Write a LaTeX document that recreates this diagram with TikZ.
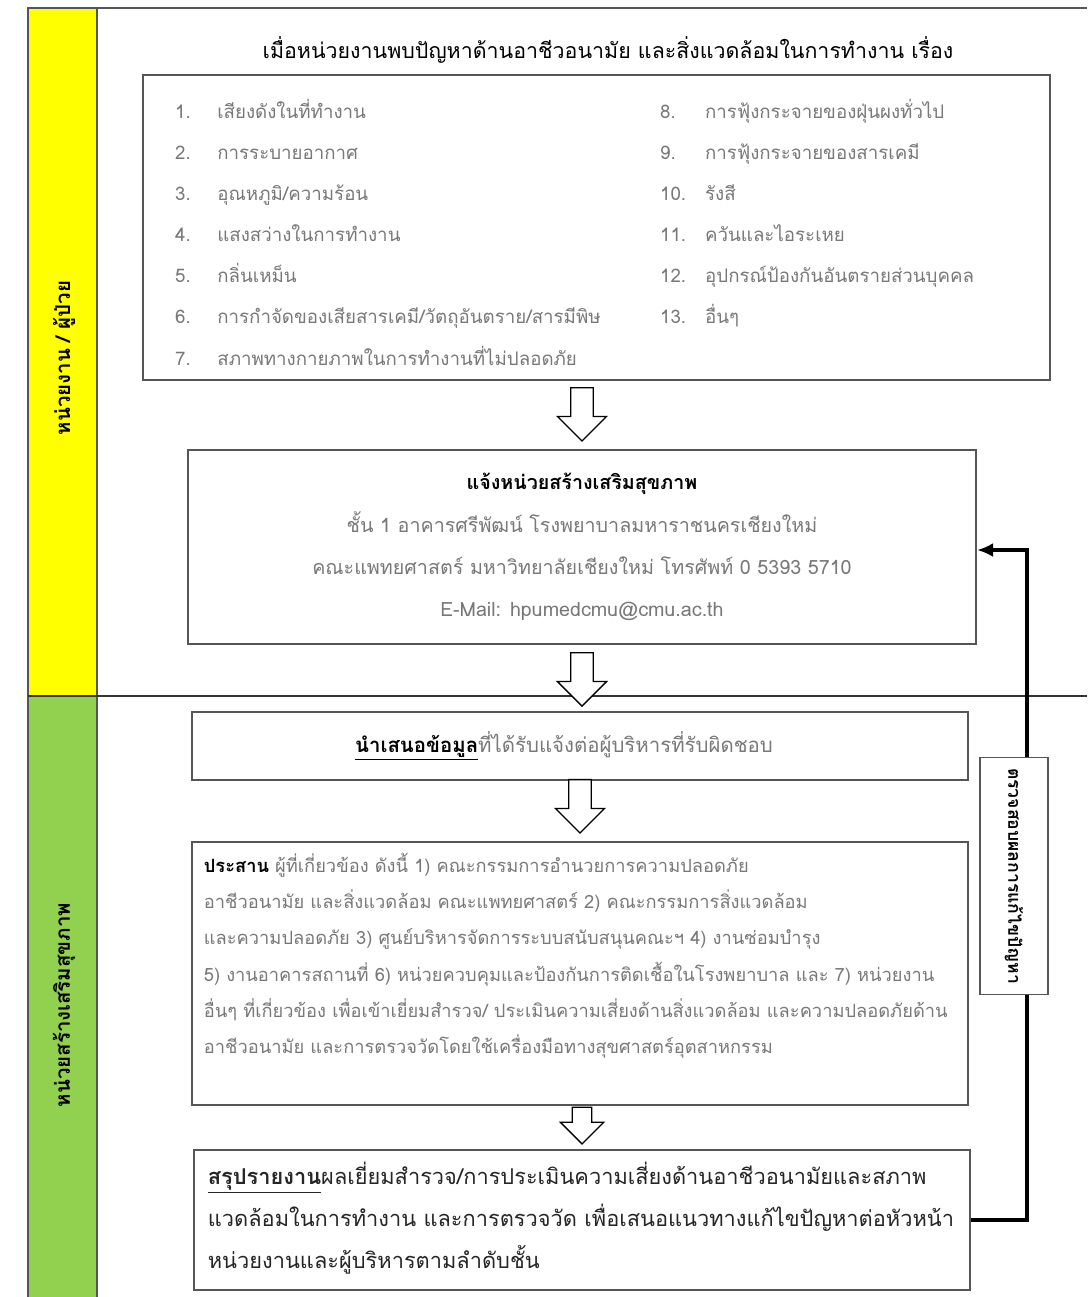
\documentclass[tikz,border=0pt]{standalone}
\usepackage{fontspec}
\newfontfamily\thai[Script=Thai]{Loma}
\usetikzlibrary{arrows.meta,shapes.arrows,positioning,calc}
\definecolor{laneyellow}{RGB}{255,255,0}
\definecolor{lanegreen}{RGB}{146,208,80}
\definecolor{softgray}{RGB}{120,120,120}
\definecolor{framegray}{RGB}{85,85,85}
\newcommand\listfont{\thai\fontsize{13.3}{14.6}\selectfont}

\tikzset{
  box/.style={draw=framegray, line width=1.4pt, fill=white, inner sep=0pt},
  hollow/.style={single arrow, draw=black, fill=white, line width=0.9pt,
    shape border rotate=270, inner sep=7.5pt, single arrow head extend=9.5pt,
    minimum height=38pt},
  lane/.style={rotate=90, font=\thai\bfseries\fontsize{14.5}{16}\selectfont},
  feedback/.style={line width=2.2pt, -{Latex[length=4mm,width=3.5mm]}},
}

\begin{document}
\begin{tikzpicture}[x=0.025cm,y=-0.025cm]
\useasboundingbox (0,0) rectangle (1087,1297);
\fill[laneyellow] (28,8) rectangle (97,695);
\fill[lanegreen] (28,697) rectangle (97,1297);
\draw[framegray,line width=1pt] (28,1297) -- (28,8) -- (1087,8);
\draw[framegray,line width=1pt] (97,8) -- (97,1297);
\draw[black!80,line width=0.8pt] (28,696) -- (1087,696);
\draw (64,358) node[lane] (unitlane) {หน่วยงาน / ผู้ป่วย};
\draw (64,1005) node[lane] (hpulane) {หน่วยสร้างเสริมสุขภาพ};

\draw (608,50) node[font=\thai\fontsize{15.2}{18}\selectfont] (title)
  {เมื่อหน่วยงานพบปัญหาด้านอาชีวอนามัย และสิ่งแวดล้อมในการทำงาน เรื่อง};

\draw (596.5,227.5) node[box, minimum width=22.675cm, minimum height=7.625cm] (issues) {};
\draw (issues.north west) ++(22,11) node[anchor=north west, text=softgray, font=\listfont] (leftlist) {
\renewcommand\arraystretch{2}
\begin{tabular}{@{}p{30pt}@{}l@{}}
1. & เสียงดังในที่ทำงาน \\
2. & การระบายอากาศ \\
3. & อุณหภูมิ/ความร้อน \\
4. & แสงสว่างในการทำงาน \\
5. & กลิ่นเหม็น \\
6. & การกำจัดของเสียสารเคมี/วัตถุอันตราย/สารมีพิษ \\
7. & สภาพทางกายภาพในการทำงานที่ไม่ปลอดภัย \\
\end{tabular}
};
\draw (issues.north west) ++(507,11) node[anchor=north west, text=softgray, font=\listfont] (rightlist) {
\renewcommand\arraystretch{2}
\begin{tabular}{@{}p{32pt}@{}l@{}}
8. & การฟุ้งกระจายของฝุ่นผงทั่วไป \\
9. & การฟุ้งกระจายของสารเคมี \\
10. & รังสี \\
11. & ควันและไอระเหย \\
12. & อุปกรณ์ป้องกันอันตรายส่วนบุคคล \\
13. & อื่นๆ \\
\end{tabular}
};

\draw (582,547) node[box, minimum width=19.7cm, minimum height=4.85cm, align=center,
  text=softgray, font=\thai\fontsize{14}{30}\selectfont] (notify) {
{\color{black}\bfseries แจ้งหน่วยสร้างเสริมสุขภาพ}\\
ชั้น 1 อาคารศรีพัฒน์ โรงพยาบาลมหาราชนครเชียงใหม่\\
คณะแพทยศาสตร์ มหาวิทยาลัยเชียงใหม่ โทรศัพท์ 0 5393 5710\\
E-Mail: hpumedcmu@cmu.ac.th};

\draw (580,746) node[box, minimum width=19.4cm, minimum height=1.7cm] (present) {};
\draw (present.center) ++(-16,0) node[font=\thai\fontsize{14.5}{17}\selectfont] (presenttext)
  {\underline{\textbf{นำเสนอข้อมูล}}\textcolor{softgray}{ที่ได้รับแจ้งต่อผู้บริหารที่รับผิดชอบ}};

\draw (580,973.5) node[box, minimum width=19.4cm, minimum height=6.575cm] (coord) {};
\draw (coord.north west) ++(8,7) node[anchor=north west, align=left, text=softgray,
  font=\thai\fontsize{13}{25.8}\selectfont] (coordtext) {
{\color{black}\bfseries ประสาน} ผู้ที่เกี่ยวข้อง ดังนี้ 1) คณะกรรมการอำนวยการความปลอดภัย\\
อาชีวอนามัย และสิ่งแวดล้อม คณะแพทยศาสตร์ 2) คณะกรรมการสิ่งแวดล้อม\\
และความปลอดภัย 3) ศูนย์บริหารจัดการระบบสนับสนุนคณะฯ 4) งานซ่อมบำรุง\\
5) งานอาคารสถานที่ 6) หน่วยควบคุมและป้องกันการติดเชื้อในโรงพยาบาล และ 7) หน่วยงาน\\
อื่นๆ ที่เกี่ยวข้อง เพื่อเข้าเยี่ยมสำรวจ/ ประเมินความเสี่ยงด้านสิ่งแวดล้อม และความปลอดภัยด้าน\\
อาชีวอนามัย และการตรวจวัดโดยใช้เครื่องมือทางสุขศาสตร์อุตสาหกรรม};

\draw (582,1220) node[box, minimum width=19.4cm, minimum height=3.5cm] (summary) {};
\draw (summary.north west) ++(10,8) node[anchor=north west, align=left, text=black!85,
  font=\thai\fontsize{15.5}{30}\selectfont] (summarytext) {
\underline{\textbf{สรุปรายงาน}}ผลเยี่ยมสำรวจ/การประเมินความเสี่ยงด้านอาชีวอนามัยและสภาพ\\
แวดล้อมในการทำงาน และการตรวจวัด เพื่อเสนอแนวทางแก้ไขปัญหาต่อหัวหน้า\\
หน่วยงานและผู้บริหารตามลำดับชั้น};

\node[hollow, above=5pt of notify] (downa) {};
\node[hollow, below=5pt of notify] (downb) {};
\node[hollow, above=5pt of coord] (downc) {};
\node[hollow, above=3pt of summary, minimum height=26pt, inner sep=6.5pt,
  single arrow head extend=8.5pt] (downd) {};

\coordinate (fbtop) at (1027,550);
\draw[feedback] (summary.east) -| (fbtop) -- (fbtop -| notify.east);
\draw (1014,876) node[box, line width=1pt, rotate=-90, minimum width=5.925cm, minimum height=1.7cm,
  font=\thai\bfseries\fontsize{12.5}{14}\selectfont] (fblabel) {ตรวจสอบผลการแก้ไขปัญหา};
\end{tikzpicture}
\end{document}
